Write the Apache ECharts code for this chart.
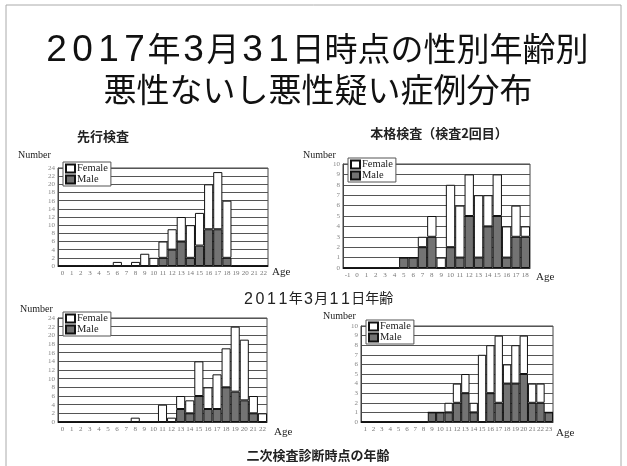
<!DOCTYPE html>
<html>
<head>
<meta charset="utf-8">
<script src="https://cdn.jsdelivr.net/npm/echarts@6/dist/echarts.min.js"></script>
<style>
  html, body { margin: 0; padding: 0; background: #fff; }
  #chart { width: 627px; height: 466px; }
</style>
</head>
<body>
<div id="chart"></div>
<script>
// 先行検査 (age at 2011-03-11, 0..22)
const ages1 = ['0','1','2','3','4','5','6','7','8','9','10','11','12','13','14','15','16','17','18','19','20','21','22']
const male1 = [0,0,0,0,0,0,0,0,0,0,0,2,4,6,2,5,9,9,2,0,0,0,0]
const female1 = [0,0,0,0,0,0,1,0,1,3,2,4,5,6,8,8,11,14,14,0,0,0,0]

// 本格検査 (age at 2011-03-11, -1..18)
const ages2 = ['-1','0','1','2','3','4','5','6','7','8','9','10','11','12','13','14','15','16','17','18']
const male2 = [0,0,0,0,0,0,1,1,2,3,0,2,1,5,1,4,5,1,3,3]
const female2 = [0,0,0,0,0,0,0,0,1,2,1,6,5,4,6,3,4,3,3,1]

// 先行検査 (age at diagnosis, 0..22)
const ages3 = ages1
const male3 = [0,0,0,0,0,0,0,0,0,0,0,0,0,3,2,6,3,3,8,7,5,2,0]
const female3 = [0,0,0,0,0,0,0,0,1,0,0,4,1,3,3,8,5,8,9,15,14,4,2]

// 本格検査 (age at diagnosis, 1..23)
const ages4 = ['1','2','3','4','5','6','7','8','9','10','11','12','13','14','15','16','17','18','19','20','21','22','23']
const male4 = [0,0,0,0,0,0,0,0,1,1,1,2,3,1,0,3,2,4,4,5,2,2,1]
const female4 = [0,0,0,0,0,0,0,0,0,0,1,2,2,1,7,5,7,2,4,4,2,2,0]

const yMax1 = 24, yStep1 = 2
const yMax2 = 10, yStep2 = 1

const serif = 'Liberation Serif'
const cjk = 'Noto Sans CJK JP'
const sans = 'Liberation Sans'

const grids = [
  { left: 58, top: 168, width: 210, height: 98 },
  { left: 343, top: 164, width: 187, height: 104 },
  { left: 58, top: 318, width: 209, height: 104 },
  { left: 361, top: 326, width: 192, height: 96 }
]
const cats = [ages1, ages2, ages3, ages4]
const maxes = [[yMax1, yStep1], [yMax2, yStep2], [yMax1, yStep1], [yMax2, yStep2]]
const males = [male1, male2, male3, male4]
const females = [female1, female2, female3, female4]

// wrap each digit in a fixed-width rich segment (the original uses wide digits)
const wideDigits = s => s.replace(/[0-9]/g, d => '{d|' + d + '}')

const chart = echarts.init(document.getElementById('chart'))

const option = {
  backgroundColor: '#fff',
  animation: false,
  grid: grids.map(g => ({ ...g, show: true, borderColor: '#444', borderWidth: 1, containLabel: false })),
  xAxis: cats.map((c, i) => ({
    type: 'category',
    gridIndex: i,
    data: c,
    boundaryGap: true,
    axisLine: { lineStyle: { color: '#333' } },
    axisTick: { show: false },
    axisLabel: { interval: 0, fontFamily: serif, fontSize: 7, color: '#777', margin: 4 }
  })),
  yAxis: maxes.map((m, i) => ({
    type: 'value',
    gridIndex: i,
    min: 0,
    max: m[0],
    interval: m[1],
    axisLine: { show: true, lineStyle: { color: '#444' } },
    axisTick: { show: false },
    axisLabel: { fontFamily: serif, fontSize: 7, color: '#888', margin: 3 },
    splitLine: { lineStyle: { color: '#555', width: 1 } }
  })),
  legend: grids.map(g => ({
    data: ['Female', 'Male'],
    orient: 'vertical',
    left: g.left + 5,
    top: g.top - 6,
    itemWidth: 9,
    itemHeight: 8,
    itemGap: 0,
    padding: [1, 3, 1, 2],
    borderColor: '#555',
    borderWidth: 1,
    backgroundColor: '#fff',
    selectedMode: false,
    icon: 'rect',
    textStyle: { fontFamily: serif, fontSize: 10.5, lineHeight: 10, color: '#222', padding: [0, 0, 0, -3] }
  })),
  series: [],
  graphic: [
    { type: 'rect', shape: { x: 6, y: 5, width: 615, height: 470 }, style: { fill: 'none', stroke: '#aaa', lineWidth: 1 } },
    { type: 'text', x: 316, y: 48, style: {
      text: wideDigits('2017年3月31日時点の性別年齢別'), fontFamily: cjk, fontSize: 33, fill: '#111', align: 'center', verticalAlign: 'middle',
      rich: { d: { width: 26, align: 'center', fontFamily: sans, fontSize: 37, fill: '#111', padding: [6, 0, 0, 0] } } } },
    { type: 'text', x: 318, y: 89, style: { text: '悪性ないし悪性疑い症例分布', fontFamily: cjk, fontSize: 33, fill: '#111', align: 'center', verticalAlign: 'middle' } },
    { type: 'text', x: 103, y: 136, style: { text: '先行検査', fontFamily: cjk, fontSize: 13, fontWeight: 'bold', fill: '#222', align: 'center', verticalAlign: 'middle' } },
    { type: 'text', x: 439, y: 133, style: { text: '本格検査（検査2回目）', fontFamily: cjk, fontSize: 13, fontWeight: 'bold', fill: '#222', align: 'center', verticalAlign: 'middle' } },
    { type: 'text', x: 318, y: 298, style: {
      text: wideDigits('2011年3月11日年齢'), fontFamily: cjk, fontSize: 14, fill: '#222', align: 'center', verticalAlign: 'middle',
      rich: { d: { width: 11.5, align: 'center', fontFamily: sans, fontSize: 16, fill: '#222', padding: [3, 0, 0, 0] } } } },
    { type: 'text', x: 318, y: 455, style: { text: '二次検査診断時点の年齢', fontFamily: cjk, fontSize: 13, fontWeight: 'bold', fill: '#222', align: 'center', verticalAlign: 'middle' } },
    { type: 'text', x: 18, y: 155, style: { text: 'Number', fontFamily: serif, fontSize: 10, fill: '#222', verticalAlign: 'middle' } },
    { type: 'text', x: 303, y: 155, style: { text: 'Number', fontFamily: serif, fontSize: 10, fill: '#222', verticalAlign: 'middle' } },
    { type: 'text', x: 20, y: 309, style: { text: 'Number', fontFamily: serif, fontSize: 10, fill: '#222', verticalAlign: 'middle' } },
    { type: 'text', x: 323, y: 316, style: { text: 'Number', fontFamily: serif, fontSize: 10, fill: '#222', verticalAlign: 'middle' } },
    { type: 'text', x: 272, y: 272, style: { text: 'Age', fontFamily: serif, fontSize: 11, fill: '#222', verticalAlign: 'middle' } },
    { type: 'text', x: 536, y: 277, style: { text: 'Age', fontFamily: serif, fontSize: 11, fill: '#222', verticalAlign: 'middle' } },
    { type: 'text', x: 274, y: 432, style: { text: 'Age', fontFamily: serif, fontSize: 11, fill: '#222', verticalAlign: 'middle' } },
    { type: 'text', x: 556, y: 433, style: { text: 'Age', fontFamily: serif, fontSize: 11, fill: '#222', verticalAlign: 'middle' } }
  ]
}

for (let i = 0; i < 4; i++) {
  option.series.push({
    name: 'Male',
    type: 'bar',
    xAxisIndex: i,
    yAxisIndex: i,
    stack: 's' + i,
    data: males[i],
    barCategoryGap: '0%',
    itemStyle: { color: '#737373', borderColor: '#111', borderWidth: 1 }
  })
  option.series.push({
    name: 'Female',
    type: 'bar',
    xAxisIndex: i,
    yAxisIndex: i,
    stack: 's' + i,
    data: females[i],
    barCategoryGap: '0%',
    itemStyle: { color: '#fff', borderColor: '#111', borderWidth: 1 }
  })
}

chart.setOption(option)
</script>
</body>
</html>
